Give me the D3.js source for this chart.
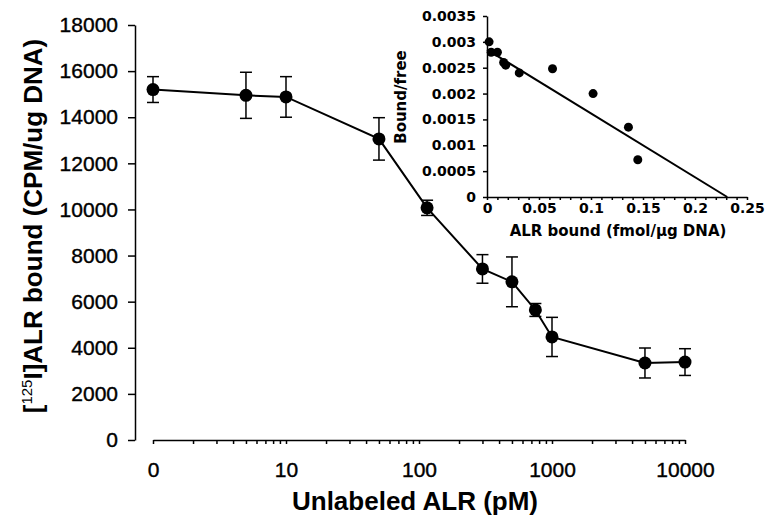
<!DOCTYPE html>
<html>
<head>
<meta charset="utf-8">
<script src="https://cdn.jsdelivr.net/npm/d3@7"></script>
<style>
  body { margin: 0; background: #fff; }
  svg { display: block; }
</style>
</head>
<body>
<div id="chart"></div>
<script>
(function(){

    // main competition curve
    var doses = [0, 5, 10, 50, 115, 300, 500, 750, 1000, 5000, 10000];   /* pM, 0 is drawn at the first decade */
    var bound = [15200, 14950, 14880, 13060, 10070, 7420, 6860, 5640, 4470, 3340, 3380];
    var boundErr = [560, 1000, 880, 920, 330, 620, 1080, 280, 850, 650, 580];
    var xTickLabels = ["0", "10", "100", "1000", "10000"];
    var yTicks = [0, 2000, 4000, 6000, 8000, 10000, 12000, 14000, 16000, 18000];

    // scatchard inset
    var insetBound = [0.002, 0.004, 0.010, 0.016, 0.018, 0.031, 0.063, 0.102, 0.136, 0.145];
    var insetRatio = [0.0030, 0.0028, 0.0028, 0.0026, 0.00255, 0.0024, 0.00248, 0.0020, 0.00135, 0.00072];
    var fitLine = [[0, 0.00285], [0.231, 0]];
    var insetXTicks = [0, 0.05, 0.1, 0.15, 0.2, 0.25];
    var insetYTicks = [0, 0.0005, 0.001, 0.0015, 0.002, 0.0025, 0.003, 0.0035];

    var W = 769, H = 523;
    var svg = d3.select("#chart").append("svg")
        .attr("width", W)
        .attr("height", H);

    svg.append("rect").attr("width", W).attr("height", H).attr("fill", "#fff");

    /* ---------- main plot ---------- */
    var x = d3.scaleLog().domain([1, 10000]).range([153, 685]);
    var y = d3.scaleLinear().domain([0, 18000]).range([440, 25]);
    var px = function(d){ return x(d === 0 ? 1 : d); };

    // log minor ticks 1..9 per decade
    var logTicks = [];
    [1, 10, 100, 1000].forEach(function(dec){
        for (var k = 1; k < 10; k++) logTicks.push(dec * k);
    });
    logTicks.push(10000);

    var xAxis = d3.axisBottom(x)
        .tickValues(logTicks)
        .tickSize(4)
        .tickSizeOuter(0)
        .tickPadding(18)
        .tickFormat(function(d){
            var i = [1, 10, 100, 1000, 10000].indexOf(d);
            return i < 0 ? "" : xTickLabels[i];
        });

    var gx = svg.append("g")
        .attr("transform", "translate(0,440)")
        .call(xAxis);
    gx.selectAll("text")
        .style("font-family", "'Liberation Sans', Arial, sans-serif")
        .style("font-size", "21px")
        .style("fill", "#000")
        .style("stroke", "#000")
        .style("stroke-width", 0.4);
    gx.selectAll("line, path").style("stroke", "#000").style("stroke-width", 1.5);

    var yAxis = d3.axisLeft(y)
        .tickValues(yTicks)
        .tickSize(7)
        .tickSizeOuter(0)
        .tickPadding(10)
        .tickFormat(d3.format("d"));

    var gy = svg.append("g")
        .attr("transform", "translate(135,0)")
        .call(yAxis);
    gy.selectAll("text")
        .style("font-family", "'Liberation Sans', Arial, sans-serif")
        .style("font-size", "21px")
        .style("fill", "#000")
        .style("stroke", "#000")
        .style("stroke-width", 0.4);
    gy.selectAll("line, path").style("stroke", "#000").style("stroke-width", 1.5);

    /* 标题 */
    svg.append("text")
        .attr("x", 415)
        .attr("y", 510)
        .attr("text-anchor", "middle")
        .style("font-family", "'Liberation Sans', Arial, sans-serif")
        .style("font-weight", "bold")
        .style("font-size", "26px")
        .text("Unlabeled ALR (pM)");

    var yt = svg.append("text")
        .attr("transform", "translate(42,226) rotate(-90)")
        .attr("text-anchor", "middle")
        .style("font-family", "'Liberation Sans', Arial, sans-serif")
        .style("font-weight", "bold")
        .style("font-size", "26px");
    yt.append("tspan").text("[");
    yt.append("tspan").attr("dy", -10).style("font-size", "15px").style("font-weight", "normal").text("125");
    yt.append("tspan").attr("dy", 10).text("I]ALR bound (CPM/ug DNA)");

    var pts = doses.map(function(d, i){
        return {dose: d, v: bound[i], e: boundErr[i]};
    });

    var line = d3.line()
        .x(function(d){ return px(d.dose); })
        .y(function(d){ return y(d.v); });

    svg.append("path")
        .datum(pts)
        .attr("d", line)
        .attr("fill", "none")
        .attr("stroke", "#000")
        .attr("stroke-width", 2);

    var eb = svg.selectAll("g.err")
        .data(pts)
        .enter()
        .append("g")
        .attr("class", "err");
    eb.append("line")
        .attr("x1", function(d){ return px(d.dose); })
        .attr("x2", function(d){ return px(d.dose); })
        .attr("y1", function(d){ return y(d.v + d.e); })
        .attr("y2", function(d){ return y(d.v - d.e); });
    eb.append("line")
        .attr("x1", function(d){ return px(d.dose) - 6; })
        .attr("x2", function(d){ return px(d.dose) + 6; })
        .attr("y1", function(d){ return y(d.v + d.e); })
        .attr("y2", function(d){ return y(d.v + d.e); });
    eb.append("line")
        .attr("x1", function(d){ return px(d.dose) - 6; })
        .attr("x2", function(d){ return px(d.dose) + 6; })
        .attr("y1", function(d){ return y(d.v - d.e); })
        .attr("y2", function(d){ return y(d.v - d.e); });
    eb.selectAll("line").attr("stroke", "#000").attr("stroke-width", 1.5);

    svg.selectAll("circle.main")
        .data(pts)
        .enter()
        .append("circle")
        .attr("class", "main")
        .attr("cx", function(d){ return px(d.dose); })
        .attr("cy", function(d){ return y(d.v); })
        .attr("r", 6.5)
        .attr("fill", "#000");

    /* ---------- inset ---------- */
    var ix = d3.scaleLinear().domain([0, 0.25]).range([487, 747]);
    var iy = d3.scaleLinear().domain([0, 0.0035]).range([197, 16]);
    var insetFont = "'DejaVu Sans', Verdana, sans-serif";

    var minorX = d3.range(0, 26).map(function(k){ return k / 100; });
    var ixAxis = d3.axisBottom(ix)
        .tickValues(minorX)
        .tickSize(3)
        .tickSizeOuter(0)
        .tickPadding(3)
        .tickFormat(function(d){
            var hit = insetXTicks.filter(function(t){ return Math.abs(t - d) < 1e-9; });
            return hit.length ? d3.format("")(hit[0]) : "";
        });
    var gix = svg.append("g")
        .attr("transform", "translate(0,197)")
        .call(ixAxis);
    gix.selectAll("text")
        .style("font-family", insetFont)
        .style("font-weight", "bold")
        .style("font-size", "14px")
        .style("fill", "#000");
    gix.selectAll("line, path").style("stroke", "#000").style("stroke-width", 1.5);

    var iyAxis = d3.axisLeft(iy)
        .tickValues(insetYTicks)
        .tickSize(4)
        .tickSizeOuter(0)
        .tickPadding(7)
        .tickFormat(d3.format(""));
    var giy = svg.append("g")
        .attr("transform", "translate(487,0)")
        .call(iyAxis);
    giy.selectAll("text")
        .style("font-family", insetFont)
        .style("font-weight", "bold")
        .style("font-size", "14px")
        .style("fill", "#000");
    giy.selectAll("line, path").style("stroke", "#000").style("stroke-width", 1.5);

    svg.append("text")
        .attr("x", 618)
        .attr("y", 236)
        .attr("text-anchor", "middle")
        .style("font-family", insetFont)
        .style("font-weight", "bold")
        .style("font-size", "15px")
        .text("ALR bound (fmol/\u00b5g DNA)");

    svg.append("text")
        .attr("transform", "translate(406,97) rotate(-90)")
        .attr("text-anchor", "middle")
        .style("font-family", insetFont)
        .style("font-weight", "bold")
        .style("font-size", "15px")
        .text("Bound/free");

    svg.append("path")
        .datum(fitLine)
        .attr("d", d3.line()
            .x(function(d){ return ix(d[0]); })
            .y(function(d){ return iy(d[1]); }))
        .attr("fill", "none")
        .attr("stroke", "#000")
        .attr("stroke-width", 2);

    svg.selectAll("circle.inset")
        .data(insetBound)
        .enter()
        .append("circle")
        .attr("class", "inset")
        .attr("cx", function(d){ return ix(d); })
        .attr("cy", function(d, i){ return iy(insetRatio[i]); })
        .attr("r", 4.5)
        .attr("fill", "#000");

})();
</script>
</body>
</html>
